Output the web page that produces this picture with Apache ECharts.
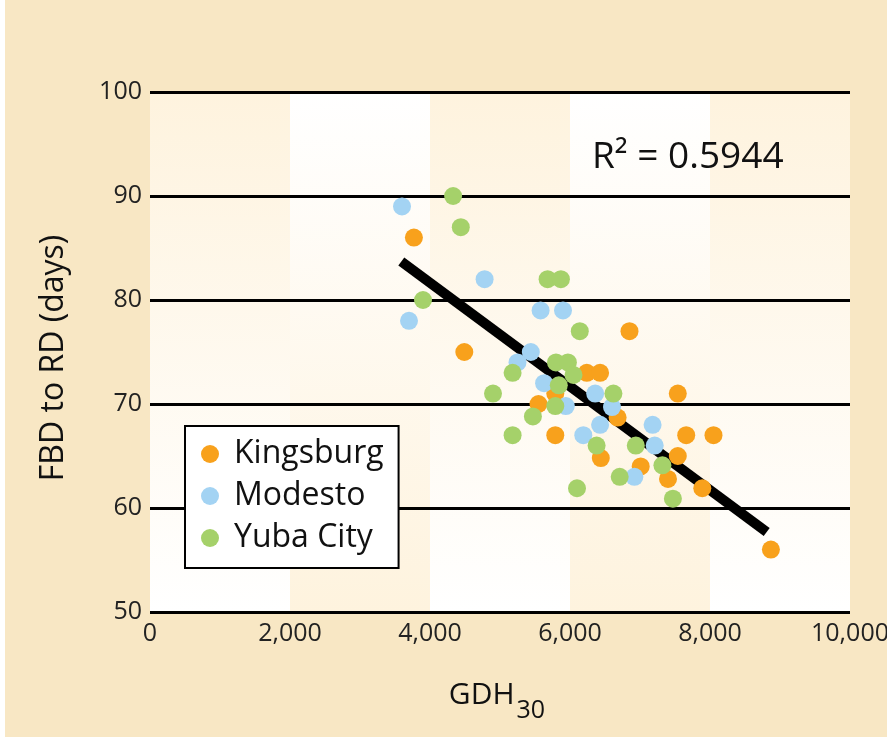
<!DOCTYPE html>
<html><head><meta charset="utf-8">
<script src="https://cdn.jsdelivr.net/npm/echarts@6/dist/echarts.min.js"></script>
<style>html,body{margin:0;padding:0;background:#f8e7c4}#c{width:887px;height:737px}</style>
</head><body><div id="c"></div>
<script>
const kingsburg = [[3770,86],[4490,75],[6850,77],[6240,73],[6430,73],[5790,71],[7540,71],[5550,70],[6680,68.7],[5790,67],[7660,67],[8050,67],[7540,65],[6440,64.8],[7010,64],[7400,62.8],[7890,61.9],[8870,56]];
const modesto = [[3600,89],[3700,78],[4780,82],[5580,79],[5900,79],[5440,75],[5250,74],[5630,72],[6360,71],[5940,69.8],[6600,69.7],[6430,68],[7180,68],[6190,67],[7210,66],[6920,63]];
const yubaCity = [[4330,90],[4440,87],[3900,80],[5680,82],[5870,82],[6140,77],[5180,73],[5800,74],[5970,74],[6050,72.8],[5840,71.8],[4900,71],[6620,71],[5790,69.8],[5470,68.8],[5180,67],[6380,66],[6940,66],[7320,64.1],[6710,63],[6100,61.9],[7470,60.9]];
const trendLine = [[3590,83.7],[8810,57.7]];
const bandEdges = [0,2000,4000,6000,8000,10000];
const xTicks = {min:0,max:10000,interval:2000};
const yTicks = {min:50,max:100,interval:10};
const r2Text = 'R² = 0.5944';

const beige = '#fef3de';
function grad(top,bottom){return {type:'linear',x:0,y:0,x2:0,y2:1,colorStops:[{offset:0,color:top},{offset:1,color:bottom}]};}
const bands = [];
for (let i=0;i<bandEdges.length-1;i++){
  const c = i%2===0 ? grad(beige,'#ffffff') : grad('#ffffff',beige);
  bands.push([{xAxis:bandEdges[i],itemStyle:{color:c}},{xAxis:bandEdges[i+1]}]);
}
const font = 'Open Sans';
const chart = echarts.init(document.getElementById('c'));
chart.setOption({
  backgroundColor:'#f8e7c4',
  animation:false,
  textStyle:{fontFamily:font},
  graphic:[{type:'rect',left:0,top:0,shape:{width:5,height:737},style:{fill:'#ffffff'}}],
  title:{text:r2Text,left:587,top:134,textStyle:{fontFamily:font,fontSize:37,fontWeight:'normal',color:'#111'}},
  grid:{left:150,right:37,top:92,bottom:125,outerBoundsMode:'none',containLabel:false},
  legend:{
    data:['Kingsburg','Modesto','Yuba City'],
    orient:'vertical',left:185,top:426,
    backgroundColor:'#fff',borderColor:'#000',borderWidth:2,
    padding:[12,15,14,16],itemGap:10,itemWidth:38,itemHeight:18,icon:'circle',
    textStyle:{fontFamily:font,fontSize:32,color:'#111'}
  },
  xAxis:{type:'value',min:xTicks.min,max:xTicks.max,interval:xTicks.interval,
    axisLine:{show:false},axisTick:{show:false},splitLine:{show:false},
    axisLabel:{fontFamily:font,fontSize:25,color:'#222',margin:9,formatter:v=>v.toLocaleString('en-US')},
    name:'{a|GDH}{b|30}',nameLocation:'middle',nameGap:68,
    nameTextStyle:{padding:[0,6,0,0],rich:{a:{fontFamily:font,fontSize:30,lineHeight:30,verticalAlign:'top',color:'#111'},b:{fontFamily:font,fontSize:25,lineHeight:25,padding:[18,0,0,2],verticalAlign:'top',color:'#111'}}}
  },
  yAxis:{type:'value',min:yTicks.min,max:yTicks.max,interval:yTicks.interval,z:1.5,
    axisLine:{show:false},axisTick:{show:false},
    splitLine:{show:true,lineStyle:{color:'#000',width:3}},
    axisLabel:{fontFamily:font,fontSize:25,color:'#222',margin:8},
    name:'FBD to RD (days)',nameLocation:'middle',nameGap:80,
    nameTextStyle:{fontFamily:font,fontSize:32,color:'#111',padding:[0,12,0,0]}
  },
  series:[
    {type:'scatter',name:'bands',data:[],silent:true,z:1,
      markArea:{silent:true,z:1,data:bands}},
    {type:'line',name:'trend',data:trendLine,symbol:'none',z:2,
      lineStyle:{color:'#000',width:10,cap:'butt'}},
    {type:'scatter',name:'Kingsburg',data:kingsburg,symbolSize:18,z:3,itemStyle:{color:'#f8a11c',opacity:1}},
    {type:'scatter',name:'Modesto',data:modesto,symbolSize:18,z:3,itemStyle:{color:'#a3d3f3',opacity:1}},
    {type:'scatter',name:'Yuba City',data:yubaCity,symbolSize:18,z:3,itemStyle:{color:'#a5d16a',opacity:1}}
  ]
});
</script></body></html>
